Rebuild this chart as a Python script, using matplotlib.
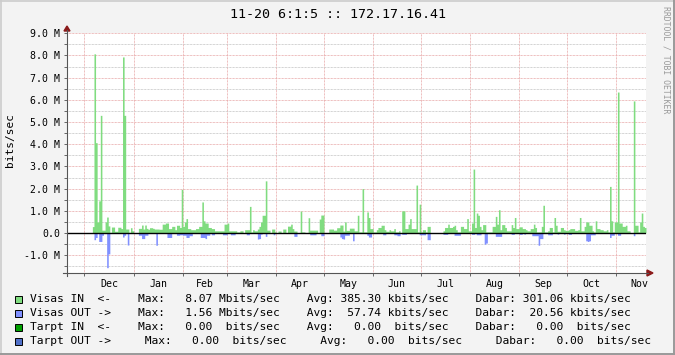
import numpy as np
import matplotlib
matplotlib.use('Agg')
import matplotlib.pyplot as plt
from matplotlib.patches import Rectangle, Polygon
from matplotlib.lines import Line2D
from matplotlib.ticker import FuncFormatter, MultipleLocator

plt.rcParams['font.family'] = 'DejaVu Sans Mono'

W, H = 675, 355

title = '11-20 6:1:5 :: 172.17.16.41'
start = np.datetime64('2010-11-20')
months = ['Dec', 'Jan', 'Feb', 'Mar', 'Apr', 'May', 'Jun',
          'Jul', 'Aug', 'Sep', 'Oct', 'Nov']

# daily values in Mbit/s, one per day starting 11-20
visas_in = [
    0, 0, 0, 0, 0, 0, 0, 0, 0, 0,
    0, 0, 0, 0, 0, 0, 0.29, 8.07, 4.07, 0.5,
    1.45, 5.3, 0.13, 0.13, 0.5, 0.72, 0.32, 0.03, 0.27, 0.27,
    0.08, 0.08, 0.26, 0.26, 0.2, 7.93, 5.3, 0.18, 0.18, 0.03,
    0.24, 0.1, 0, 0, 0, 0.21, 0.21, 0.36, 0.18, 0.36,
    0.21, 0.17, 0.24, 0.24, 0.21, 0.18, 0.18, 0.18, 0.17, 0.17,
    0.4, 0.4, 0.45, 0.45, 0.2, 0.2, 0.3, 0.3, 0.15, 0.35,
    0.35, 0.25, 1.97, 0.3, 0.5, 0.65, 0.2, 0.2, 0.15, 0.15,
    0.15, 0.2, 0.2, 0.3, 0.3, 1.4, 0.55, 0.45, 0.45, 0.25,
    0.25, 0.2, 0.2, 0.1, 0.1, 0.1, 0.1, 0.1, 0.1, 0.4,
    0.4, 0.45, 0.1, 0.1, 0.1, 0.1, 0.1, 0.05, 0.05, 0.1,
    0.1, 0, 0.15, 0.15, 0.15, 1.2, 0.05, 0.15, 0.1, 0.1,
    0.18, 0.3, 0.5, 0.8, 0.8, 2.35, 0.13, 0.13, 0, 0.18,
    0.18, 0.05, 0, 0.09, 0.09, 0, 0.18, 0.18, 0, 0.31,
    0.31, 0.4, 0.2, 0.09, 0.09, 0, 0, 0.99, 0.05, 0.05,
    0, 0, 0.69, 0.13, 0.13, 0.13, 0.13, 0.13, 0, 0.63,
    0.81, 0.81, 0, 0, 0, 0.18, 0.18, 0.18, 0.13, 0.13,
    0.24, 0.24, 0.36, 0.36, 0.09, 0.5, 0.12, 0.12, 0.22, 0.22,
    0.22, 0.1, 0.1, 0.8, 0.05, 0.05, 2.0, 0.05, 0.05, 0.95,
    0.7, 0.2, 0.2, 0.05, 0.05, 0.15, 0.25, 0.25, 0.35, 0.35,
    0.15, 0.08, 0.08, 0.15, 0.1, 0.1, 0.2, 0.05, 0.05, 0.1,
    0, 1.0, 1.0, 0.2, 0.2, 0.4, 0.65, 0.2, 0.2, 0.2,
    2.16, 0.05, 1.3, 0.05, 0.15, 0.15, 0.05, 0.3, 0.3, 0,
    0, 0, 0, 0, 0, 0, 0, 0.1, 0.25, 0.25,
    0.4, 0.25, 0.25, 0.3, 0.35, 0.15, 0.05, 0.05, 0.3, 0.3,
    0.2, 0.2, 0.65, 0.1, 0.1, 0.45, 2.88, 0.25, 0.9, 0.8,
    0.3, 0.15, 0.38, 0.38, 0.05, 0.05, 0.05, 0.05, 0.3, 0.3,
    0.75, 0.4, 1.05, 0.15, 0.38, 0.38, 0.25, 0.1, 0.1, 0.1,
    0.38, 0.25, 0.7, 0.2, 0.2, 0.28, 0.28, 0.2, 0.2, 0.15,
    0.1, 0.1, 0.2, 0.2, 0.4, 0.25, 0.05, 0.05, 0.05, 0.3,
    1.25, 0.05, 0.05, 0.1, 0.25, 0.25, 0.05, 0.7, 0.35, 0.08,
    0.08, 0.25, 0.25, 0.15, 0.12, 0.12, 0.15, 0.2, 0.2, 0.2,
    0.12, 0.12, 0.15, 0.7, 0.1, 0.1, 0.3, 0.5, 0.5, 0.35,
    0.35, 0.1, 0.05, 0.55, 0.2, 0.2, 0.15, 0.15, 0.1, 0.1,
    0.15, 0.05, 2.1, 0.55, 0.05, 0.5, 0.5, 6.35, 0.45, 0.45,
    0.3, 0.3, 0.35, 0.1, 0.1, 0, 0, 5.95, 0.35, 0.35,
    0.05, 0.5, 0.9, 0.3, 0.25,
]

# outgoing, drawn below zero
visas_out = [
    0, 0, 0, 0, 0, 0, 0, 0, 0, 0,
    0, 0, 0, 0, 0, 0, 0, 0.3, 0.2, 0,
    0.38, 0.38, 0.1, 0, 0, 1.56, 0.94, 0, 0, 0,
    0, 0, 0, 0, 0, 0.18, 0.1, 0, 0.54, 0,
    0, 0, 0, 0, 0, 0.1, 0.1, 0.25, 0.25, 0.1,
    0.1, 0, 0, 0, 0, 0, 0.55, 0, 0, 0,
    0, 0, 0, 0.2, 0.2, 0.2, 0, 0, 0, 0.1,
    0.1, 0.08, 0.08, 0.1, 0.1, 0.2, 0.2, 0.12, 0.12, 0,
    0, 0, 0, 0, 0.2, 0.2, 0.2, 0.25, 0.1, 0.1,
    0, 0.08, 0.08, 0, 0, 0, 0, 0, 0.08, 0.08,
    0.08, 0, 0, 0.08, 0.08, 0.08, 0, 0, 0, 0,
    0, 0, 0, 0.08, 0.08, 0, 0, 0, 0, 0,
    0.27, 0.25, 0.05, 0, 0, 0.15, 0, 0, 0, 0,
    0.08, 0, 0, 0, 0, 0, 0, 0, 0, 0,
    0, 0, 0, 0.15, 0.15, 0, 0, 0, 0, 0,
    0, 0, 0, 0.08, 0.08, 0.08, 0.08, 0, 0, 0,
    0.12, 0.12, 0, 0, 0, 0, 0, 0, 0, 0,
    0, 0, 0.18, 0.25, 0.27, 0.1, 0.1, 0.1, 0, 0,
    0.35, 0, 0, 0, 0, 0, 0, 0, 0, 0.1,
    0.18, 0.18, 0, 0, 0, 0, 0, 0, 0, 0.08,
    0.08, 0, 0, 0, 0, 0, 0.08, 0.08, 0.12, 0.12,
    0, 0.06, 0.06, 0.06, 0, 0, 0, 0, 0, 0,
    0, 0, 0.08, 0.08, 0.08, 0.08, 0, 0.3, 0.3, 0,
    0, 0, 0, 0, 0, 0, 0, 0.06, 0.06, 0.06,
    0, 0, 0, 0, 0.1, 0.1, 0.1, 0.1, 0, 0,
    0, 0, 0, 0, 0, 0.06, 0.06, 0, 0.08, 0.08,
    0.08, 0, 0, 0.5, 0.45, 0, 0, 0, 0, 0,
    0.15, 0.15, 0.15, 0.15, 0, 0, 0, 0, 0, 0,
    0.06, 0.06, 0, 0, 0, 0.06, 0.06, 0, 0.05, 0,
    0, 0, 0, 0.12, 0.12, 0.12, 0.12, 0.55, 0.25, 0.25,
    0, 0, 0, 0.08, 0.08, 0.08, 0, 0, 0, 0.05,
    0, 0, 0, 0.05, 0, 0, 0.06, 0.06, 0, 0,
    0, 0, 0, 0, 0, 0, 0, 0.35, 0.38, 0.35,
    0.08, 0.08, 0.08, 0, 0, 0, 0, 0, 0, 0,
    0, 0, 0.2, 0.1, 0.1, 0, 0, 0.1, 0.1, 0,
    0, 0, 0, 0, 0, 0, 0, 0.12, 0, 0,
    0, 0, 0, 0, 0,
]

legend_rows = [
    'Visas IN  <-    Max:   8.07 Mbits/sec    Avg: 385.30 kbits/sec    Dabar: 301.06 kbits/sec',
    'Visas OUT ->    Max:   1.56 Mbits/sec    Avg:  57.74 kbits/sec    Dabar:  20.56 kbits/sec',
    'Tarpt IN  <-    Max:   0.00  bits/sec    Avg:   0.00  bits/sec    Dabar:   0.00  bits/sec',
    'Tarpt OUT ->     Max:   0.00  bits/sec     Avg:   0.00  bits/sec     Dabar:   0.00  bits/sec',
]
legend_colors = ['#80DC80', '#8090FF', '#00A000', '#5070C8']

in_color = '#80DC80'
out_color = '#8090FF'


def fx(x):
    return x / W


def fy(y):
    return 1 - y / H


fig = plt.figure(figsize=(W / 100, H / 100), dpi=100, facecolor='#F3F3F3')
ax = fig.add_axes([fx(67), fy(273), (646 - 67) / W, (273 - 33.2) / H])
ax.set_facecolor('white')

# step areas, one value per day (rrdtool style AREA)
vin = np.array(visas_in) * 1e6
vout = -np.array(visas_out) * 1e6
edges = np.arange(len(vin) + 1)
ax.fill_between(edges, np.append(vin, vin[-1]), step='post',
                color=in_color, linewidth=0)
ax.fill_between(edges, np.append(vout, vout[-1]), step='post',
                color=out_color, linewidth=0)
ax.axhline(0, color='black', lw=1.0, zorder=3)

ax.set_xlim(0, 365)
ax.set_ylim(-1.8e6, 9.0e6)

# month boundaries and mid-month labels
mstart = np.arange('2010-12', '2012-01', dtype='datetime64[M]').astype('datetime64[D]')
mdays = (mstart - start).astype(int)
starts = mdays[:-1]
mids = (mdays[:-1] + mdays[1:]) / 2

ax.set_xticks(mids, months)
ax.set_xticks(starts, minor=True)
ax.tick_params(axis='x', which='major', length=0, pad=4, labelsize=7.1)
ax.tick_params(axis='x', which='minor', length=2, direction='out',
               color='#666666', width=0.7)

ax.yaxis.set_major_locator(MultipleLocator(1e6))
ax.yaxis.set_minor_locator(MultipleLocator(0.5e6))


def mfmt(v, pos):
    m = v / 1e6
    if abs(m) < 1e-9:
        return '0.0'
    return f'{m:.1f} M'


ax.yaxis.set_major_formatter(FuncFormatter(mfmt))
ax.tick_params(axis='y', which='both', length=2, direction='out',
               color='#666666', width=0.7, pad=3, labelsize=7.1)

dot = (0, (0.72, 0.72))
ax.grid(True, axis='y', which='minor', color='#C4C4C4', lw=0.72, linestyle=dot)
ax.grid(True, axis='y', which='major', color='#E8A8A8', lw=0.72, linestyle=dot)
ax.grid(True, axis='x', which='minor', color='#E8A8A8', lw=0.72, linestyle=dot)
ax.set_axisbelow(True)

for s in ax.spines.values():
    s.set_visible(False)

# axes with arrows
fig.add_artist(Line2D([fx(67), fx(67)], [fy(276), fy(30)], color='#555555', lw=0.8))
fig.add_artist(Line2D([fx(63), fx(648)], [fy(273), fy(273)], color='#555555', lw=0.8))
fig.add_artist(Polygon([(fx(64), fy(31)), (fx(70), fy(31)), (fx(67), fy(26))],
                       closed=True, color='#8B1A1A', transform=fig.transFigure))
fig.add_artist(Polygon([(fx(647), fy(270)), (fx(647), fy(276)), (fx(653), fy(273))],
                       closed=True, color='#8B1A1A', transform=fig.transFigure))

fig.text(fx(338), fy(14), title, ha='center', va='center', fontsize=9.6)
fig.text(fx(10), fy(140), 'bits/sec', rotation=90, ha='center', va='center',
         fontsize=8)
fig.text(fx(666), fy(60), 'RRDTOOL / TOBI OETIKER', rotation=270,
         ha='center', va='center', fontsize=5.9, color='#999999')

row_y = [299, 313, 327, 341]
for text, col, y in zip(legend_rows, legend_colors, row_y):
    fig.add_artist(Rectangle((fx(15), fy(y + 3.5)), 7 / W, 7 / H,
                             transform=fig.transFigure, facecolor=col,
                             edgecolor='black', lw=0.7))
    fig.text(fx(30), fy(y), text, ha='left', va='center', fontsize=8.15)

# frame
fig.add_artist(Line2D([0, 1], [fy(0.7), fy(0.7)], color='#CCCCCC', lw=1.2))
fig.add_artist(Line2D([fx(0.7), fx(0.7)], [0, 1], color='#CCCCCC', lw=1.2))
fig.add_artist(Line2D([0, 1], [fy(354), fy(354)], color='#999999', lw=1.4))
fig.add_artist(Line2D([fx(674), fx(674)], [0, 1], color='#999999', lw=1.4))

fig.savefig('out.png', dpi=100, facecolor=fig.get_facecolor())
